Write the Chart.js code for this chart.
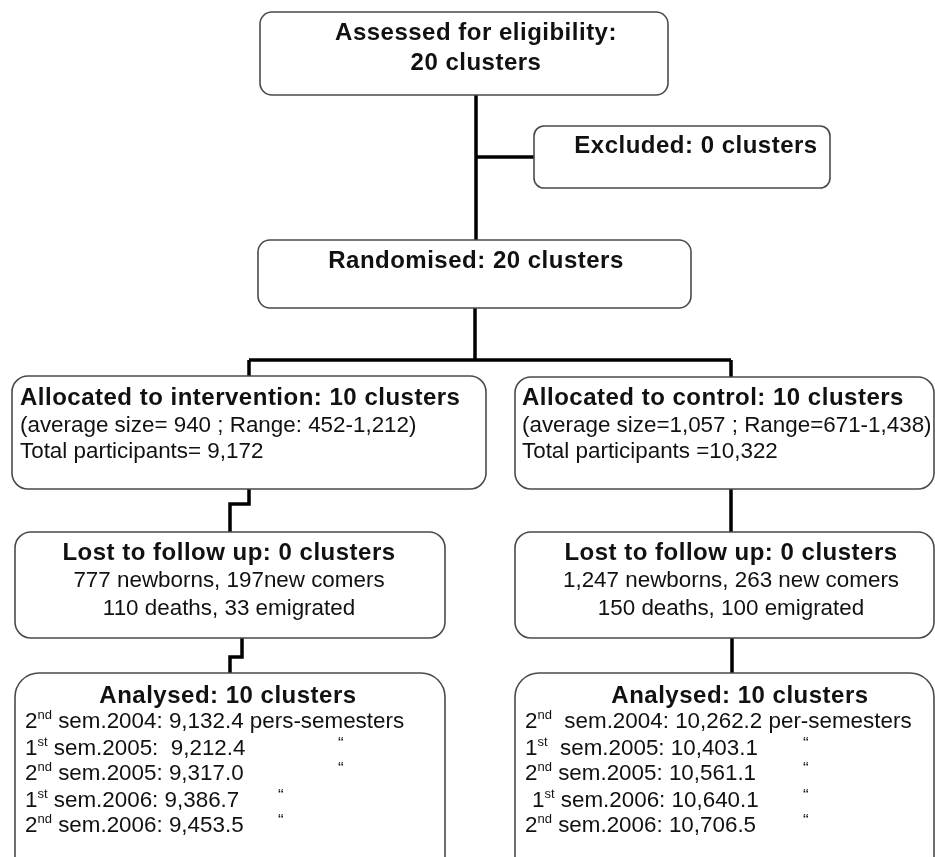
<!DOCTYPE html>
<html>
<head>
<meta charset="utf-8">
<script src="https://cdn.jsdelivr.net/npm/chart.js@4.4.1/dist/chart.umd.min.js"></script>
<style>
  html, body { margin: 0; padding: 0; background: #fff; }
  canvas { display: block; }
</style>
</head>
<body>
<canvas id="flow" width="935" height="857"></canvas>
<script>
// --- data ---
const assessedClusters = 20;
const excludedClusters = 0;
const randomisedClusters = 20;

const armTitles = ['Allocated to intervention: 10 clusters', 'Allocated to control: 10 clusters'];
const armSizeLines = ['(average size= 940 ; Range: 452-1,212)', '(average size=1,057 ; Range=671-1,438)'];
const armTotals = ['Total participants= 9,172', 'Total participants =10,322'];

const lostClusters = [0, 0];
const lostNewborns = ['777 newborns, 197new comers', '1,247 newborns, 263 new comers'];
const lostDeaths = ['110 deaths, 33 emigrated', '150 deaths, 100 emigrated'];

const analysedClusters = [10, 10];
const semOrdinals = ['2', '1', '2', '1', '2'];
const semSuffixes = ['nd', 'st', 'nd', 'st', 'nd'];
const semYears = [2004, 2005, 2005, 2006, 2006];
const interventionPersSem = [9132.4, 9212.4, 9317.0, 9386.7, 9453.5];
const controlPersSem = [10262.2, 10403.1, 10561.1, 10640.1, 10706.5];
const unitLabels = ['pers-semesters', 'per-semesters'];

// --- layout (pixel space of the 935x857 page) ---
const boxes = {
    assessed:  [260, 12, 668, 95, 12],
    excluded:  [534, 126, 830, 188, 10],
    randomised:[258, 240, 691, 308, 12],
    allocL:    [12, 376, 486, 489, 16],
    allocR:    [515, 377, 934, 489, 16],
    lostL:     [15, 532, 445, 638, 16],
    lostR:     [515, 532, 934, 638, 16],
    analysedL: [15, 673, 445, 895, 24],
    analysedR: [515, 673, 934, 895, 24],
};
const connectors = [
    [[476, 95], [476, 240]],
    [[476, 157], [534, 157]],
    [[475, 308], [475, 360]],
    [[249, 360], [731, 360]],
    [[249, 360], [249, 376]],
    [[731, 360], [731, 377]],
    [[249, 489], [249, 504], [230, 504], [230, 532]],
    [[731, 489], [731, 532]],
    [[242, 638], [242, 657], [230, 657], [230, 673]],
    [[732, 638], [732, 673]],
];
const armTextX = [20, 522];
const armCenterX = [229, 731];
const analysedCenterX = [228, 740];
const analysedLeftX = [25, 525];
const analysedBaselines = [728, 755, 780, 807, 832];
const dittoX = [[null, 338, 338, 278, 278], [null, 803, 803, 803, 803]];
const supGap = [[' ', ' ', ' ', ' ', ' '], ['  ', '  ', ' ', ' ', ' ']];
const colonGap = [[' ', '  ', ' ', ' ', ' '], [' ', ' ', ' ', ' ', ' ']];
const lineIndent = [[0, 0, 0, 0, 0], [0, 0, 0, 7, 0]];

const BOLD = 'bold 24px "Liberation Sans", Arial, sans-serif';
const REG = '22.4px "Liberation Sans", Arial, sans-serif';
const SUP = '13px "Liberation Sans", Arial, sans-serif';

const fmt = (v) => v.toLocaleString('en-US', { minimumFractionDigits: 1, maximumFractionDigits: 1 });

// Список текстов для отрисовки
function buildTexts() {
    const t = [];
    t.push({ text: 'Assessed for eligibility:', x: 476, y: 40, bold: true, align: 'center' });
    t.push({ text: assessedClusters + ' clusters', x: 476, y: 70, bold: true, align: 'center' });
    t.push({ text: 'Excluded: ' + excludedClusters + ' clusters', x: 696, y: 153, bold: true, align: 'center' });
    t.push({ text: 'Randomised: ' + randomisedClusters + ' clusters', x: 476, y: 268, bold: true, align: 'center' });
    for (let a = 0; a < 2; a++) {
        t.push({ text: armTitles[a], x: armTextX[a], y: 405, bold: true, align: 'left' });
        t.push({ text: armSizeLines[a], x: armTextX[a], y: 432, align: 'left' });
        t.push({ text: armTotals[a], x: armTextX[a], y: 458, align: 'left' });
        t.push({ text: 'Lost to follow up: ' + lostClusters[a] + ' clusters', x: armCenterX[a], y: 560, bold: true, align: 'center' });
        t.push({ text: lostNewborns[a], x: armCenterX[a], y: 587, align: 'center' });
        t.push({ text: lostDeaths[a], x: armCenterX[a], y: 615, align: 'center' });
        t.push({ text: 'Analysed: ' + analysedClusters[a] + ' clusters', x: analysedCenterX[a], y: 703, bold: true, align: 'center' });
    }
    return t;
}

const flowPlugin = {
    id: 'flow',
    afterDatasetsDraw(chart) {
        const ctx = chart.ctx;
        const X = (v) => chart.scales.x.getPixelForValue(v);
        const Y = (v) => chart.scales.y.getPixelForValue(v);
        ctx.save();

        // Рамки
        Object.values(boxes).forEach(([x0, y0, x1, y1, r]) => {
            ctx.beginPath();
            ctx.roundRect(X(x0), Y(y0), X(x1) - X(x0), Y(y1) - Y(y0), r);
            ctx.fillStyle = '#fff';
            ctx.fill();
            ctx.lineWidth = 1.6;
            ctx.strokeStyle = '#4a4a4a';
            ctx.stroke();
        });

        // Тексты
        ctx.fillStyle = '#111';
        ctx.textBaseline = 'alphabetic';
        buildTexts().forEach((it) => {
            ctx.font = it.bold ? BOLD : REG;
            ctx.letterSpacing = it.bold ? '0.5px' : '0px';
            ctx.textAlign = it.align;
            ctx.fillText(it.text, X(it.x), Y(it.y));
        });
        ctx.letterSpacing = '0px';

        // Строки «Analysed»
        ctx.textAlign = 'left';
        [interventionPersSem, controlPersSem].forEach((vals, a) => {
            vals.forEach((v, i) => {
                let x = X(analysedLeftX[a] + lineIndent[a][i]);
                const y = Y(analysedBaselines[i]);
                ctx.font = REG;
                ctx.fillText(semOrdinals[i], x, y);
                x += ctx.measureText(semOrdinals[i]).width;
                ctx.font = SUP;
                ctx.fillText(semSuffixes[i], x, y - 9);
                x += ctx.measureText(semSuffixes[i]).width;
                ctx.font = REG;
                let s = supGap[a][i] + 'sem.' + semYears[i] + ':' + colonGap[a][i] + fmt(v);
                if (i === 0) s += ' ' + unitLabels[a];
                ctx.fillText(s, x, y);
                if (dittoX[a][i] !== null) {
                    ctx.font = '17px "Liberation Sans", Arial, sans-serif';
                    ctx.fillText('\u201C', X(dittoX[a][i]), y - 6);
                }
            });
        });
        ctx.restore();
    },
};

new Chart(document.getElementById('flow'), {
    type: 'scatter',
    data: {
        datasets: connectors.map((pts) => ({
            data: pts.map(([x, y]) => ({ x, y })),
            showLine: true,
            borderColor: '#000',
            borderWidth: 3.5,
            pointRadius: 0,
            tension: 0,
            fill: false,
            borderJoinStyle: 'miter',
            borderCapStyle: 'butt',
            clip: false,
        })),
    },
    options: {
        responsive: false,
        animation: false,
        devicePixelRatio: 1,
        layout: { padding: 0 },
        plugins: { legend: { display: false }, tooltip: { enabled: false } },
        events: [],
        scales: {
            x: { type: 'linear', min: 0, max: 935, display: false },
            y: { type: 'linear', min: 0, max: 857, reverse: true, display: false },
        },
    },
    plugins: [flowPlugin],
});
</script>
</body>
</html>
